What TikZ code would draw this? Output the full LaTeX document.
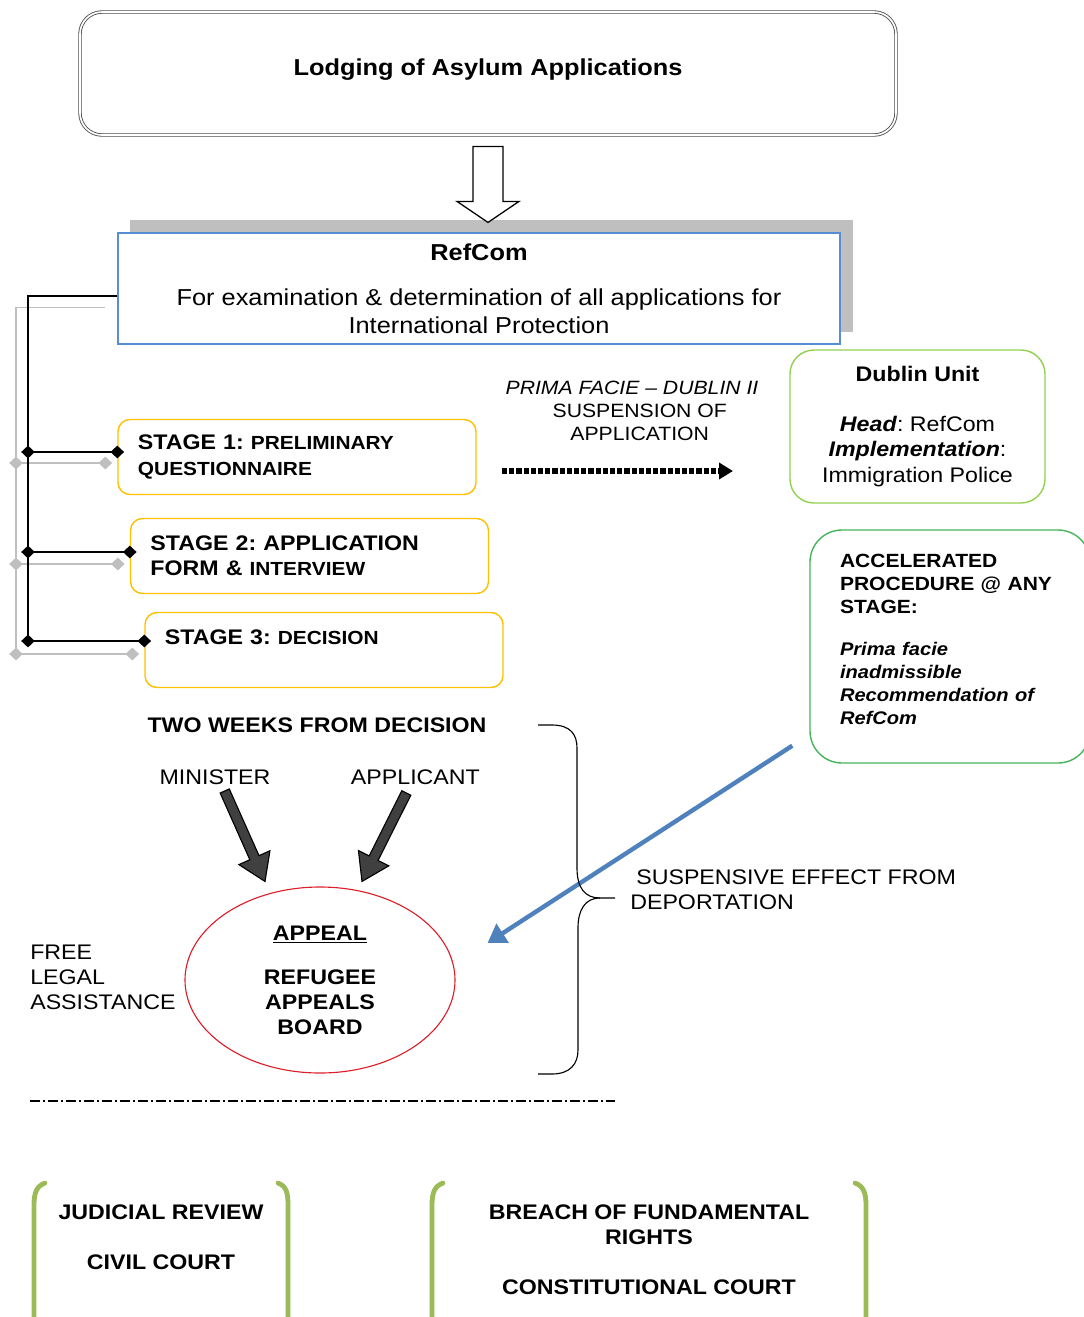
\documentclass[tikz,border=0pt]{standalone}
\usepackage{fontspec}
\setmainfont{Liberation Sans}[FakeStretch=1.1]
\usetikzlibrary{positioning,shapes.geometric,arrows.meta,calc}

\definecolor{stageorange}{RGB}{255,192,0}
\definecolor{dublingreen}{RGB}{146,208,80}
\definecolor{accelgreen}{RGB}{70,180,90}
\definecolor{refblue}{RGB}{85,142,213}
\definecolor{arrowblue}{RGB}{79,129,189}
\definecolor{appealred}{RGB}{220,30,40}
\definecolor{courtgreen}{RGB}{155,187,89}
\definecolor{shadowgray}{RGB}{191,191,191}

\newcommand{\stsmall}[1]{{\fontsize{13.5}{17.8}\selectfont #1}}
\newcommand{\accit}[1]{{\fontsize{13}{16.4}\selectfont\itshape #1}}

\begin{document}
\frenchspacing
\begin{tikzpicture}[x=0.25mm, y=-0.25mm,
  txt/.style={font=\fontsize{15}{17.8}\selectfont, inner sep=0pt, align=center},
  lodge box/.style={draw=black!70, double=white, double distance=1.2pt, line width=0.6pt, rounded corners=5.5mm, minimum width=204mm, minimum height=30.75mm},
  refcom box/.style={draw=refblue, fill=white, line width=0.9pt, minimum width=180.5mm, minimum height=27.75mm, inner sep=0pt, align=center, font=\fontsize{16.4}{20}\selectfont},
  stage box/.style={draw=stageorange, line width=1pt, rounded corners=3mm, minimum width=89.5mm, minimum height=18.75mm, text width=79.5mm, inner xsep=5mm, inner ysep=0pt, align=left, font=\fontsize{15}{17.8}\selectfont\bfseries},
  dublin box/.style={draw=dublingreen, line width=1pt, rounded corners=6mm, minimum width=63.75mm, minimum height=38.25mm, inner sep=0pt, align=center, font=\fontsize{15}{17.8}\selectfont},
  accel box/.style={draw=accelgreen, line width=1pt, rounded corners=8mm, minimum width=70mm, minimum height=58.25mm, text width=55mm, inner xsep=7.5mm, align=left, font=\fontsize{13.6}{16.4}\selectfont\bfseries},
  appeal ell/.style={ellipse, draw=appealred, line width=0.8pt, minimum width=67.5mm, minimum height=46.5mm, inner sep=0pt, align=center, font=\fontsize{15}{17.8}\selectfont\bfseries},
  spine/.style={line width=1.2pt},
  spine shadow/.style={line width=1.2pt, draw=shadowgray},
  link/.style={line width=2pt, {Diamond[length=3.4mm,width=3.2mm]}-{Diamond[length=3.4mm,width=3.2mm]}, shorten <=-1.7mm, shorten >=-1.7mm},
  shadow link/.style={link, draw=shadowgray, line width=1.8pt},
  dot arrow/.style={line width=1.3mm, dash pattern=on 1.3mm off 0.5mm, -{Triangle[length=3.5mm,width=4mm]}},
  blue arrow/.style={draw=arrowblue, line width=1.1mm, -{Triangle[length=4.5mm,width=5.5mm]}},
  court/.style={draw=courtgreen, line width=1.2mm, line cap=round},
  fat arrow/.pic={\draw[fill=black!75, line width=0.8pt] (0,0) -- (-26,-17) -- (-26,-5) -- (-99,-5) -- (-99,5) -- (-26,5) -- (-26,17) -- cycle;}
]
  \useasboundingbox (0,0) rectangle (1084,1317);
  \clip (0,0) rectangle (1084,1317);

  % lodging and RefCom
  \node[lodge box] (lodge) at (488,73.5) {};
  \node[txt, font=\fontsize{16.4}{20}\selectfont\bfseries] (lodgetxt) at ($(lodge.center)+(0,-3.5)$) {Lodging of Asylum Applications};
  \fill[shadowgray] (130,220) rectangle (853,332);
  \draw[line width=0.9pt, fill=white, shift={(lodge.south)}] (-15,11) -- (15,11) -- (15,66) -- (31,66) -- (0,87) -- (-31,66) -- (-15,66) -- cycle;
  \node[refcom box] (refcom) at (479,288.5) {\textbf{RefCom}\\[12pt]For examination \& determination of all applications for\\International Protection};

  % stages
  \node[stage box] (s1) at (297,457) {STAGE 1: \stsmall{PRELIMINARY}\\\stsmall{QUESTIONNAIRE}};
  \node[stage box] (s2) at (309.5,556) {STAGE 2: APPLICATION\\FORM \& \stsmall{INTERVIEW}};
  \node[stage box] (s3) at (324,650) {STAGE 3: \stsmall{DECISION}\\\mbox{}};

  \coordinate (j1) at (28,452);
  \coordinate (j2) at (28,552);
  \coordinate (j3) at (28,641);

  \draw[spine shadow] ($(refcom.west)+(-12,19)$) -| ($(j3)+(-12,13)$);
  \draw[shadow link] ($(j1)+(-12,11)$) -- ($(j1 -| s1.west)+(-12,11)$);
  \draw[shadow link] ($(j2)+(-12,12)$) -- ($(j2 -| s2.west)+(-12,12)$);
  \draw[shadow link] ($(j3)+(-12,13)$) -- ($(j3 -| s3.west)+(-12,13)$);

  \draw[spine] ($(refcom.west)+(0,7.5)$) -| (j3);
  \draw[link] (j1) -- (j1 -| s1.west);
  \draw[link] (j2) -- (j2 -| s2.west);
  \draw[link] (j3) -- (j3 -| s3.west);

  % Dublin unit
  \node[txt, font=\fontsize{13.7}{16.4}\selectfont] (prima) at (632,411) {\textit{PRIMA FACIE – DUBLIN II}\\\hspace*{11pt}SUSPENSION OF\\\hspace*{11pt}APPLICATION};
  \node[dublin box] (dublin) at (917.5,426.5) {\textbf{Dublin Unit}\\[17.8pt]\textbf{\textit{Head}}: RefCom\\\textbf{\textit{Implementation}}:\\Immigration Police};
  \coordinate (dl) at (502,471);
  \coordinate (dr) at (733,471);
  \draw[dot arrow] (dl) -- (dr);

  % accelerated procedure
  \node[accel box] (accel) at (950,646.5) {ACCELERATED\\PROCEDURE @ ANY\\STAGE:\\[13.5pt]\accit{Prima facie}\\\accit{inadmissible}\\\accit{Recommendation of}\\\accit{RefCom}\\[-6.4pt]\mbox{}};

  % appeal
  \node[txt] (twoweeks) at (317,725) {\textbf{TWO WEEKS FROM DECISION}};
  \node[txt] (minister) at (215,777) {MINISTER};
  \node[txt, right=20mm of minister] (applicant) {APPLICANT};
  \node[appeal ell] (appeal) at (320,980) {\underline{APPEAL}\\[13.5pt]REFUGEE\\APPEALS\\BOARD};
  \node[txt, align=left, anchor=west] (legal) at (30,977.5) {FREE\\LEGAL\\ASSISTANCE};

  \coordinate (mtip) at ($(appeal.north)+(-55,-5)$);
  \coordinate (atip) at ($(appeal.north)+(42,-5)$);
  \pic[rotate=-66] at (mtip) {fat arrow};
  \pic[rotate=-116.6] at (atip) {fat arrow};

  \draw[blue arrow] ($(accel.south west)+(-17,-18)$) -- ($(appeal.east)+(32,-37)$);

  % brace
  \draw[line width=0.8pt] (538,725) -- (552,725) .. controls (571,725) and (577,735) .. (577,748) -- (577,868)
    .. controls (577,888) and (585,898) .. (600,898) -- (615,898);
  \draw[line width=0.8pt] (600,898) .. controls (585,898) and (578,910) .. (578,928) -- (578,1050)
    .. controls (578,1064) and (570,1074) .. (552,1074) -- (538,1074);
  \node[txt, align=left, anchor=west] (suspensive) at (630,890) {\hspace*{4.3pt}SUSPENSIVE EFFECT FROM\\DEPORTATION};

  \draw[line width=0.8pt, dash pattern=on 2.4mm off 0.8mm on 0.5mm off 0.8mm] (30,1101) -- (615,1101);

  % courts
  \node[txt] (civil) at (161,1237) {\textbf{JUDICIAL REVIEW}\\[17.8pt]\textbf{CIVIL COURT}};
  \node[txt] (constitutional) at (649,1250) {\textbf{BREACH OF FUNDAMENTAL}\\\textbf{RIGHTS}\\[17.8pt]\textbf{CONSTITUTIONAL COURT}};
  \draw[court] (45,1183) .. controls (37,1186) and (34,1192) .. (34,1205) -- (34,1340);
  \draw[court] (278,1183) .. controls (286,1186) and (288,1192) .. (288,1205) -- (288,1340);
  \draw[court] (443,1183) .. controls (435,1186) and (432,1192) .. (432,1205) -- (432,1340);
  \draw[court] (855,1183) .. controls (863,1186) and (866,1192) .. (866,1205) -- (866,1340);
\end{tikzpicture}
\end{document}
